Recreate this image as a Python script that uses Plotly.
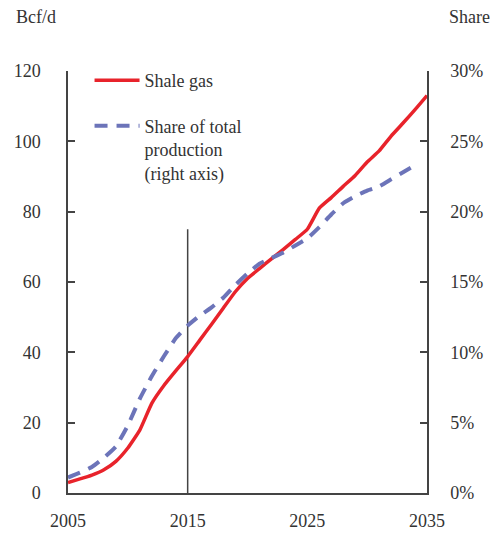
import plotly.graph_objects as go

years = list(range(2005, 2036))
shale_gas = [3.0, 4.0, 5.1, 6.6, 9.0, 12.8, 17.9, 25.5, 30.5, 34.7, 38.8,
             43.4, 48.0, 52.7, 57.3, 61.0, 63.8, 66.6, 69.3, 72.1, 75.0,
             81.0, 84.0, 87.2, 90.3, 94.1, 97.3, 101.5, 105.2, 109.0, 113.0]
share_years = list(range(2005, 2035))
share_pct = [1.1, 1.45, 1.85, 2.5, 3.3, 4.8, 6.7, 8.3, 9.7, 11.0, 11.9,
             12.6, 13.2, 13.9, 14.8, 15.6, 16.3, 16.7, 17.1, 17.6, 18.1,
             18.9, 19.8, 20.6, 21.1, 21.5, 21.8, 22.3, 22.8, 23.3]

left_ticks = [0, 20, 40, 60, 80, 100, 120]
right_ticks = [0, 5, 10, 15, 20, 25, 30]
right_labels = ["0%", "5%", "10%", "15%", "20%", "25%", "30%"]
x_ticks = [2005, 2015, 2025, 2035]
marker_year = 2015
marker_top = 75

FONT = "Liberation Serif, Times New Roman, serif"
TXT = "#333333"
AX = "#444444"

fig = go.Figure()
fig.add_trace(go.Scatter(x=years, y=shale_gas, mode="lines", name="Shale gas",
                         line=dict(color="#e8232b", width=3.5, shape="spline",
                                   smoothing=0.4),
                         legendgroup="a"))
fig.add_trace(go.Scatter(x=share_years, y=share_pct, mode="lines",
                         name="Share of total<br>production<br>(right axis)",
                         line=dict(color="#6c74b9", width=4, dash="13px,9px",
                                   shape="spline", smoothing=0.4),
                         yaxis="y2", legendgroup="b"))

fig.add_shape(type="line", x0=marker_year, x1=marker_year, y0=0, y1=marker_top,
              xref="x", yref="y", line=dict(color=AX, width=1.5), layer="below")

fig.update_layout(
    width=491, height=533,
    margin=dict(l=68, r=64, t=71, b=40),
    plot_bgcolor="white", paper_bgcolor="white",
    font=dict(family=FONT, size=18, color=TXT),
    showlegend=True,
    legend=dict(x=0.06, y=1.021, xanchor="left", yanchor="top",
                bgcolor="rgba(0,0,0,0)", tracegroupgap=19, valign="top",
                font=dict(family=FONT, size=18, color=TXT), itemwidth=45),
    xaxis=dict(range=[2005, 2035], tickvals=x_ticks, ticks="", showgrid=False,
               zeroline=False, showline=True, linecolor=AX, linewidth=1.5,
               ticklabelstandoff=11, automargin=False),
    yaxis=dict(range=[0, 120], tickvals=left_ticks, ticks="inside", ticklen=7,
               tickcolor=AX, tickwidth=1.5, showgrid=False, zeroline=False,
               showline=True, linecolor=AX, linewidth=1.5, ticklabelstandoff=22,
               automargin=False),
    yaxis2=dict(range=[0, 30], tickvals=right_ticks, ticktext=right_labels,
                overlaying="y", side="right", ticks="inside", ticklen=7,
                tickcolor=AX, tickwidth=1.5, showgrid=False, zeroline=False,
                showline=True, linecolor=AX, linewidth=1.5, ticklabelstandoff=18,
                automargin=False),
    annotations=[
        dict(text="Bcf/d", xref="paper", yref="paper", x=-0.15, y=1.128,
             xanchor="left", yanchor="middle", showarrow=False,
             font=dict(family=FONT, size=18, color=TXT)),
        dict(text="Share", xref="paper", yref="paper", x=1.18, y=1.128,
             xanchor="right", yanchor="middle", showarrow=False,
             font=dict(family=FONT, size=18, color=TXT)),
    ],
)

fig.write_html(
    "out.html",
    config={"displayModeBar": False},
    post_script="document.documentElement.style.margin='0';document.body.style.margin='0';document.body.style.overflow='hidden';",
)
